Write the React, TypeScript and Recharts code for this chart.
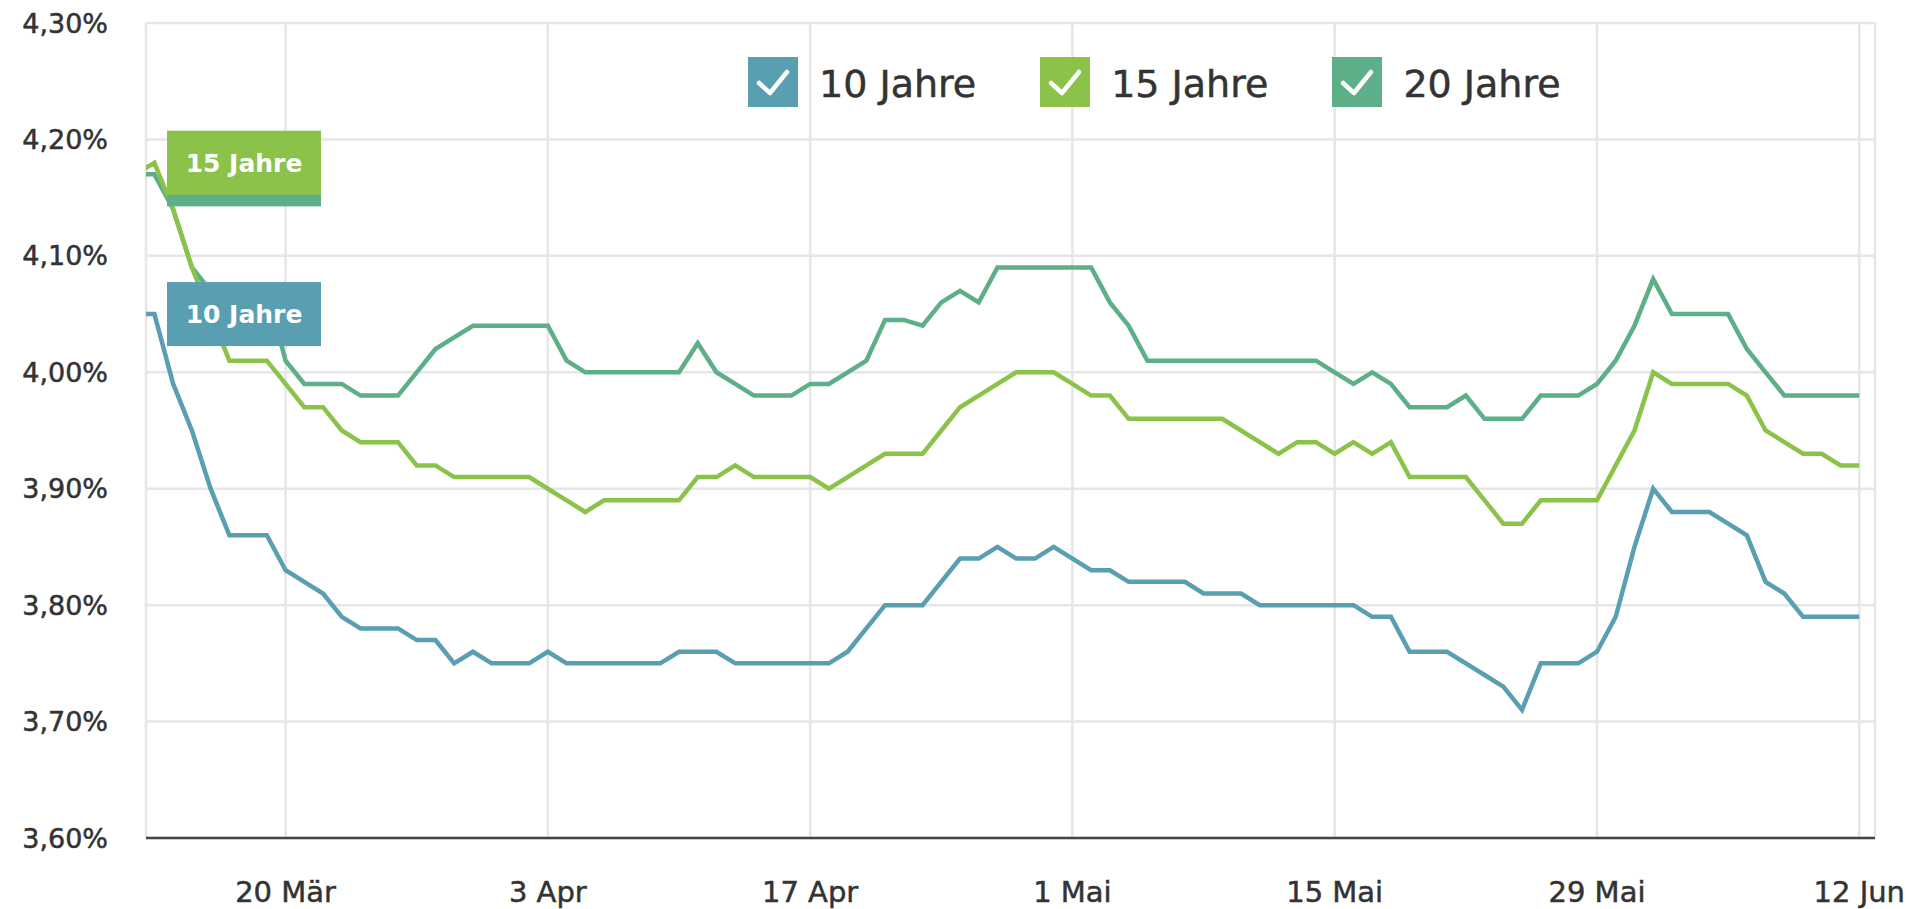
import { LineChart, Line, XAxis, YAxis, CartesianGrid, ReferenceDot } from 'recharts';

// daily values, 12 Mär (Sun) .. 12 Jun (Mon); index 8 = 20 Mär
const TEN_YEARS = [
  4.05, 4.05, 3.99, 3.95, 3.90, 3.86, 3.86, 3.86,
  3.83, 3.82, 3.81, 3.79, 3.78, 3.78, 3.78,
  3.77, 3.77, 3.75, 3.76, 3.75, 3.75, 3.75,
  3.76, 3.75, 3.75, 3.75, 3.75, 3.75, 3.75,
  3.76, 3.76, 3.76, 3.75, 3.75, 3.75, 3.75,
  3.75, 3.75, 3.76, 3.78, 3.80, 3.80, 3.80,
  3.82, 3.84, 3.84, 3.85, 3.84, 3.84, 3.85,
  3.84, 3.83, 3.83, 3.82, 3.82, 3.82, 3.82,
  3.81, 3.81, 3.81, 3.80, 3.80, 3.80, 3.80,
  3.80, 3.80, 3.79, 3.79, 3.76, 3.76, 3.76,
  3.75, 3.74, 3.73, 3.71, 3.75, 3.75, 3.75,
  3.76, 3.79, 3.85, 3.90, 3.88, 3.88, 3.88,
  3.87, 3.86, 3.82, 3.81, 3.79, 3.79, 3.79,
  3.79,
];

const FIFTEEN_YEARS = [
  4.17, 4.18, 4.14, 4.09, 4.05, 4.01, 4.01, 4.01,
  3.99, 3.97, 3.97, 3.95, 3.94, 3.94, 3.94,
  3.92, 3.92, 3.91, 3.91, 3.91, 3.91, 3.91,
  3.90, 3.89, 3.88, 3.89, 3.89, 3.89, 3.89,
  3.89, 3.91, 3.91, 3.92, 3.91, 3.91, 3.91,
  3.91, 3.90, 3.91, 3.92, 3.93, 3.93, 3.93,
  3.95, 3.97, 3.98, 3.99, 4.00, 4.00, 4.00,
  3.99, 3.98, 3.98, 3.96, 3.96, 3.96, 3.96,
  3.96, 3.96, 3.95, 3.94, 3.93, 3.94, 3.94,
  3.93, 3.94, 3.93, 3.94, 3.91, 3.91, 3.91,
  3.91, 3.89, 3.87, 3.87, 3.89, 3.89, 3.89,
  3.89, 3.92, 3.95, 4.00, 3.99, 3.99, 3.99,
  3.99, 3.98, 3.95, 3.94, 3.93, 3.93, 3.92,
  3.92,
];

const TWENTY_YEARS = [
  4.17, 4.17, 4.14, 4.09, 4.07, 4.07, 4.07, 4.07,
  4.01, 3.99, 3.99, 3.99, 3.98, 3.98, 3.98,
  4.00, 4.02, 4.03, 4.04, 4.04, 4.04, 4.04,
  4.04, 4.01, 4.00, 4.00, 4.00, 4.00, 4.00,
  4.00, 4.025, 4.00, 3.99, 3.98, 3.98, 3.98,
  3.99, 3.99, 4.00, 4.01, 4.045, 4.045, 4.04,
  4.06, 4.07, 4.06, 4.09, 4.09, 4.09, 4.09,
  4.09, 4.09, 4.06, 4.04, 4.01, 4.01, 4.01,
  4.01, 4.01, 4.01, 4.01, 4.01, 4.01, 4.01,
  4.00, 3.99, 4.00, 3.99, 3.97, 3.97, 3.97,
  3.98, 3.96, 3.96, 3.96, 3.98, 3.98, 3.98,
  3.99, 4.01, 4.04, 4.08, 4.05, 4.05, 4.05,
  4.05, 4.02, 4.00, 3.98, 3.98, 3.98, 3.98,
  3.98,
];

const X_TICKS = [8, 22, 36, 50, 64, 78, 92];
const X_TICK_LABELS = ['20 Mär', '3 Apr', '17 Apr', '1 Mai', '15 Mai', '29 Mai', '12 Jun'];
const Y_TICKS = [3.6, 3.7, 3.8, 3.9, 4.0, 4.1, 4.2, 4.3];

const SERIES = [
  { key: 'ten', name: '10 Jahre', color: '#5a9eb1', values: TEN_YEARS },
  { key: 'fifteen', name: '15 Jahre', color: '#8bc34a', values: FIFTEEN_YEARS },
  { key: 'twenty', name: '20 Jahre', color: '#5daf87', values: TWENTY_YEARS },
];

const FONT = '"DejaVu Sans", sans-serif';
const TEXT_COLOR = '#333';

const chartData = TEN_YEARS.map((_, i) => ({
  i,
  ten: TEN_YEARS[i],
  fifteen: FIFTEEN_YEARS[i],
  twenty: TWENTY_YEARS[i],
}));

function formatPercent(v: number) {
  return v.toFixed(2).replace('.', ',') + '%';
}

// flag-like series label, drawn just right of the plot's left edge
function seriesFlag(color: string, text?: string) {
  return (props: any) => {
    const { cx, cy } = props;
    return (
      <g>
        <rect x={cx + 21} y={cy - 32} width={154} height={64} fill={color} />
        {text && (
          <text
            x={cx + 98}
            y={cy + 9}
            textAnchor="middle"
            fill="#fff"
            fontFamily={FONT}
            fontWeight="bold"
            fontSize={25}
          >
            {text}
          </text>
        )}
      </g>
    );
  };
}

function LegendBox({ color }: { color: string }) {
  return (
    <svg width={50} height={50} style={{ display: 'block' }}>
      <rect width={50} height={50} fill={color} />
      <polyline
        points="11,26 22,36 39,15"
        fill="none"
        stroke="#fff"
        strokeWidth={4.5}
        strokeLinecap="round"
        strokeLinejoin="round"
      />
    </svg>
  );
}

export default function App() {
  const [ten, fifteen, twenty] = SERIES;

  return (
    <div style={{ position: 'absolute', left: 0, top: 0, width: 1910, height: 909, background: '#fff' }}>
      <LineChart
        width={1910}
        height={909}
        data={chartData}
        margin={{ top: 23, right: 35, left: 0, bottom: 0 }}
      >
        <CartesianGrid stroke="#e6e6e6" strokeWidth={2.5} />
        <XAxis
          type="number"
          dataKey="i"
          domain={[0.55, 92.84]}
          allowDataOverflow
          ticks={X_TICKS}
          tickFormatter={(v: number) => X_TICK_LABELS[X_TICKS.indexOf(v)]}
          height={71}
          stroke="#444"
          strokeWidth={2.5}
          tickLine={false}
          tickSize={0}
          tickMargin={43}
          tick={{ fontSize: 29, fill: TEXT_COLOR, stroke: TEXT_COLOR, strokeWidth: 0.5, fontFamily: FONT }}
        />
        <YAxis
          type="number"
          domain={[3.6, 4.3]}
          ticks={Y_TICKS}
          tickFormatter={formatPercent}
          width={146}
          axisLine={false}
          tickLine={false}
          tickSize={0}
          tickMargin={38}
          tick={{ fontSize: 27, fill: TEXT_COLOR, stroke: TEXT_COLOR, strokeWidth: 0.5, fontFamily: FONT }}
        />
        <Line
          dataKey="ten"
          stroke={ten.color}
          strokeWidth={4.5}
          dot={false}
          activeDot={false}
          isAnimationActive={false}
        />
        <Line
          dataKey="twenty"
          stroke={twenty.color}
          strokeWidth={4.5}
          dot={false}
          activeDot={false}
          isAnimationActive={false}
        />
        <Line
          dataKey="fifteen"
          stroke={fifteen.color}
          strokeWidth={4.5}
          dot={false}
          activeDot={false}
          isAnimationActive={false}
        />
        {/* the 20-year flag sits under the 15-year one, only its lower edge shows */}
        <ReferenceDot x={0.55} y={TWENTY_YEARS[1]} ifOverflow="visible" shape={seriesFlag(twenty.color)} />
        <ReferenceDot x={0.55} y={FIFTEEN_YEARS[1]} ifOverflow="visible" shape={seriesFlag(fifteen.color, fifteen.name)} />
        <ReferenceDot x={0.55} y={TEN_YEARS[1]} ifOverflow="visible" shape={seriesFlag(ten.color, ten.name)} />
      </LineChart>

      {/* legend */}
      <div style={{ position: 'absolute', left: 748, top: 57, display: 'flex', alignItems: 'center' }}>
        {SERIES.map(s => (
          <div key={s.key} style={{ display: 'flex', alignItems: 'center', marginRight: 64 }}>
            <LegendBox color={s.color} />
            <span
              style={{
                marginLeft: 21,
                paddingTop: 4,
                fontFamily: FONT,
                fontSize: 38,
                color: TEXT_COLOR,
                WebkitTextStroke: '0.5px #333',
                whiteSpace: 'nowrap',
              }}
            >
              {s.name}
            </span>
          </div>
        ))}
      </div>
    </div>
  );
}
